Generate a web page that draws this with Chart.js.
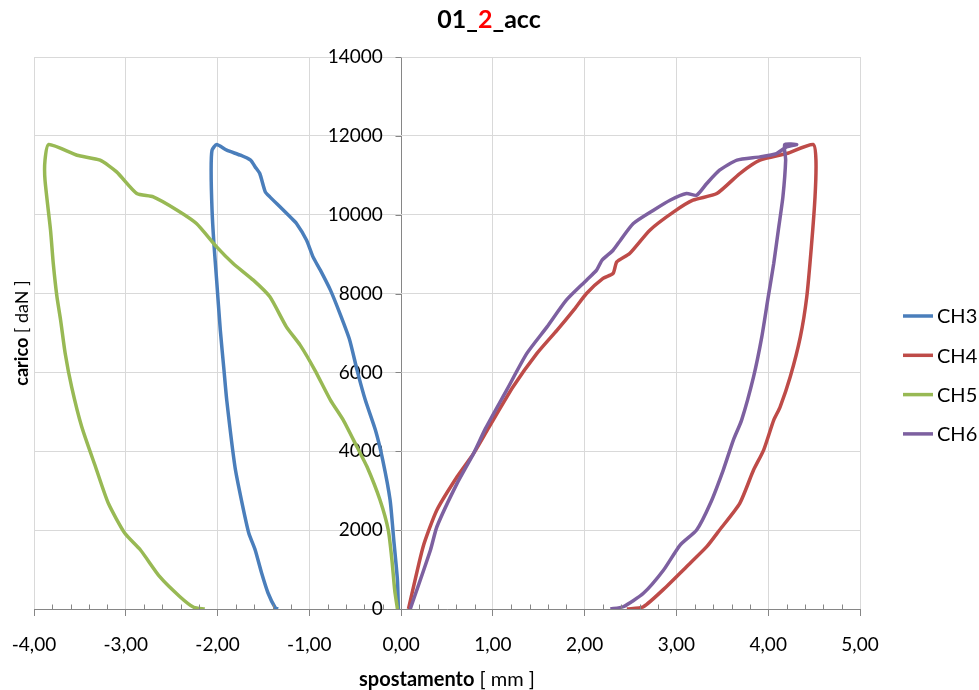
<!DOCTYPE html>
<html>
<head>
<meta charset="utf-8">
<script src="https://cdn.jsdelivr.net/npm/chart.js@4.4.1/dist/chart.umd.min.js"></script>
<style>
  body { margin: 0; background: #fff; }
  canvas { display: block; }
</style>
</head>
<body>
<canvas id="myChart" width="979" height="690"></canvas>
<script>
let seriesNames = ['CH3', 'CH4', 'CH5', 'CH6'];
let colorHex = ['#4a7ebb', '#be4b48', '#98b954', '#7d60a0'];

// spostamento [mm] / carico [daN]
let ch3X = [-0.03, -0.04, -0.08, -0.12, -0.20, -0.28, -0.39, -0.48, -0.56, -0.66, -0.77, -0.88, -0.96, -1.03, -1.14, -1.21, -1.32, -1.43, -1.48, -1.54, -1.59, -1.64, -1.75, -1.90, -2.01, -2.06, -2.07, -2.06, -2.04, -2.01, -1.97, -1.93, -1.90, -1.81, -1.74, -1.66, -1.59, -1.52, -1.45, -1.37, -1.34];
let ch3Y = [0, 735, 1750, 2763, 3777, 4538, 5298, 6059, 6819, 7453, 8087, 8594, 8931, 9354, 9777, 9946, 10200, 10453, 10580, 11045, 11213, 11383, 11509, 11636, 11780, 11636, 11130, 10115, 9278, 8340, 7073, 6059, 5298, 3600, 2763, 1927, 1496, 913, 406, 25, 0];

let ch4X = [0.08, 0.24, 0.39, 0.61, 0.79, 0.95, 1.22, 1.48, 1.70, 1.88, 2.02, 2.20, 2.31, 2.35, 2.49, 2.71, 2.97, 3.18, 3.44, 3.69, 3.91, 4.20, 4.49, 4.52, 4.51, 4.47, 4.42, 4.35, 4.24, 4.13, 4.06, 3.95, 3.84, 3.69, 3.47, 3.33, 3.11, 2.89, 2.64, 2.46];
let ch4Y = [0, 1580, 2510, 3354, 3947, 4581, 5635, 6482, 7073, 7580, 8003, 8383, 8510, 8804, 9017, 9608, 10072, 10368, 10538, 11045, 11383, 11552, 11780, 11383, 10452, 9184, 7917, 6903, 5889, 5128, 4791, 4031, 3524, 2680, 2003, 1580, 1072, 566, 58, 0];

let ch5X = [-0.04, -0.07, -0.10, -0.14, -0.23, -0.37, -0.48, -0.63, -0.77, -0.94, -1.10, -1.25, -1.43, -1.61, -1.83, -2.01, -2.23, -2.44, -2.70, -2.88, -3.10, -3.28, -3.53, -3.84, -3.88, -3.88, -3.82, -3.79, -3.75, -3.71, -3.66, -3.59, -3.48, -3.33, -3.19, -3.01, -2.84, -2.63, -2.41, -2.26, -2.14];
let ch5Y = [0, 482, 1242, 2003, 2763, 3600, 4107, 4791, 5298, 6059, 6692, 7156, 7917, 8340, 8763, 9184, 9777, 10115, 10453, 10538, 11086, 11383, 11509, 11780, 11383, 10875, 9608, 8763, 7917, 7326, 6482, 5635, 4622, 3607, 2680, 1919, 1496, 819, 312, 43, 0];

let ch6X = [0.10, 0.32, 0.39, 0.61, 0.79, 0.92, 1.15, 1.37, 1.59, 1.80, 2.02, 2.13, 2.19, 2.31, 2.39, 2.53, 2.75, 2.93, 3.11, 3.22, 3.33, 3.47, 3.66, 3.91, 4.09, 4.20, 4.31, 4.18, 4.19, 4.16, 4.11, 4.06, 4.00, 3.93, 3.84, 3.71, 3.62, 3.51, 3.37, 3.22, 3.04, 2.86, 2.64, 2.42, 2.28];
let ch6Y = [0, 1496, 2086, 3186, 3947, 4581, 5552, 6482, 7156, 7833, 8340, 8594, 8847, 9100, 9354, 9777, 10115, 10368, 10538, 10495, 10791, 11129, 11383, 11467, 11552, 11721, 11780, 11780, 11383, 10452, 9608, 8763, 7917, 6903, 5889, 4791, 4284, 3524, 2680, 2003, 1622, 989, 398, 58, 0];

let seriesX = [ch3X, ch4X, ch5X, ch6X];
let seriesY = [ch3Y, ch4Y, ch5Y, ch6Y];

const FONT = 'Lato, "Open Sans", sans-serif';
const GRID = '#d9d9d9';
const AXIS = '#868686';

function toPoints(xs, ys) {
    return xs.map((x, i) => ({ x: x, y: ys[i] }));
}

// draws a row of text pieces (bold / colour can change), centred on cx
function drawRuns(c, runs, cx, y) {
    let total = 0;
    runs.forEach(r => { c.font = r.font; total += c.measureText(r.text).width; });
    let x = cx - total / 2;
    c.textAlign = 'left';
    c.textBaseline = 'alphabetic';
    runs.forEach(r => {
        c.font = r.font;
        c.fillStyle = r.color;
        c.fillText(r.text, x, y);
        x += c.measureText(r.text).width;
    });
}

const axisMarks = {
    id: 'axisMarks',
    afterDraw(chart) {
        const c = chart.ctx;
        const xs = chart.scales.x;
        const ys = chart.scales.y;
        const bottom = Math.round(ys.getPixelForValue(0)) + 0.5;
        const x0 = Math.round(xs.getPixelForValue(0)) + 0.5;
        c.save();
        c.strokeStyle = AXIS;
        c.lineWidth = 1;
        c.beginPath();
        // minor ticks every 0,20 mm
        for (let i = -20; i <= 25; i++) {
            if (i % 5 === 0) continue;
            const px = Math.round(xs.getPixelForValue(i / 5)) + 0.5;
            c.moveTo(px, bottom);
            c.lineTo(px, bottom - 5);
        }
        ys.ticks.forEach(t => {
            const py = Math.round(ys.getPixelForValue(t.value)) + 0.5;
            c.moveTo(x0 - 6, py);
            c.lineTo(x0, py);
        });
        c.stroke();
        c.restore();
    }
};

const chartText = {
    id: 'chartText',
    afterDraw(chart) {
        const c = chart.ctx;
        const area = chart.chartArea;
        c.save();

        drawRuns(c, [
            { text: '01_', font: 'bold 25px ' + FONT, color: '#000' },
            { text: '2', font: 'bold 25px ' + FONT, color: '#ff0000' },
            { text: '_acc', font: 'bold 25px ' + FONT, color: '#000' }
        ], 489, 28);

        drawRuns(c, [
            { text: 'spostamento', font: 'bold 20px ' + FONT, color: '#000' },
            { text: ' [ mm ]', font: '20px ' + FONT, color: '#000' }
        ], (area.left + area.right) / 2, 686);

        c.save();
        c.translate(28, (area.top + area.bottom) / 2);
        c.rotate(-Math.PI / 2);
        drawRuns(c, [
            { text: 'carico', font: 'bold 18px ' + FONT, color: '#000' },
            { text: ' [ daN ]', font: '18px ' + FONT, color: '#000' }
        ], 0, 0);
        c.restore();

        // legend
        c.lineWidth = 3.5;
        c.font = '20px ' + FONT;
        c.textBaseline = 'middle';
        c.textAlign = 'left';
        seriesNames.forEach((name, i) => {
            const y = 316 + i * 39.3;
            c.strokeStyle = colorHex[i];
            c.beginPath();
            c.moveTo(903, y);
            c.lineTo(933, y);
            c.stroke();
            c.fillStyle = '#000';
            c.fillText(name, 937, y + 1);
        });
        c.restore();
    }
};

let ctx = document.getElementById('myChart');

let myChart = new Chart(ctx, {
    type: 'scatter',
    data: {
        datasets: seriesNames.map((name, i) => ({
            label: name,
            data: toPoints(seriesX[i], seriesY[i]),
            showLine: true,
            borderColor: colorHex[i],
            backgroundColor: colorHex[i],
            borderWidth: 3.5,
            borderJoinStyle: 'round',
            pointRadius: 0,
            tension: 0.2,
            order: 4 - i
        }))
    },
    options: {
        responsive: false,
        animation: false,
        layout: {
            padding: { left: 34, right: 119, top: 57, bottom: 36 }
        },
        plugins: {
            legend: { display: false },
            title: { display: false },
            tooltip: { enabled: false }
        },
        scales: {
            x: {
                type: 'linear',
                position: 'bottom',
                min: -4,
                max: 5,
                afterFit: (scale) => {
                    scale.height = 45;
                    scale.paddingLeft = 0;
                    scale.paddingRight = 0;
                },
                ticks: {
                    stepSize: 1,
                    padding: 17,
                    color: '#000',
                    font: { family: FONT, size: 19 },
                    callback: (value) => value.toFixed(2).replace('.', ',').replace('-0,00', '0,00')
                },
                grid: {
                    color: (context) => (context.tick && context.tick.value === 0 ? AXIS : GRID),
                    tickColor: AXIS,
                    tickLength: 7
                },
                border: { color: AXIS }
            },
            y: {
                type: 'linear',
                position: { x: -0.2 },
                min: 0,
                max: 14000,
                ticks: {
                    stepSize: 2000,
                    padding: 0,
                    color: '#000',
                    font: { family: FONT, size: 19 },
                    callback: (value) => String(value)
                },
                grid: {
                    color: GRID,
                    drawTicks: false
                },
                border: { display: false }
            }
        }
    },
    plugins: [axisMarks, chartText]
});
</script>
</body>
</html>
